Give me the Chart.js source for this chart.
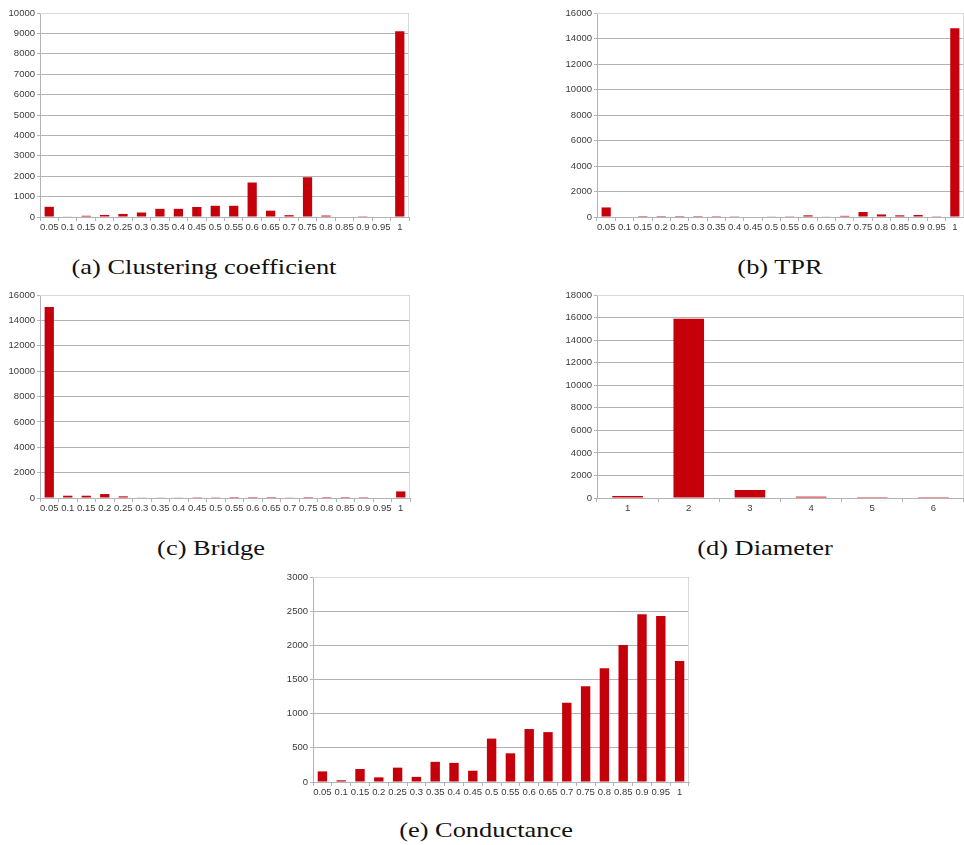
<!DOCTYPE html>
<html>
<head>
<meta charset="utf-8">
<script src="https://cdn.jsdelivr.net/npm/chart.js@4/dist/chart.umd.min.js"></script>
<style>
  html, body { margin: 0; padding: 0; background: #ffffff; }
  body { width: 964px; height: 845px; position: relative; overflow: hidden; }
  .panel { position: absolute; }
  .panel canvas { display: block; }
  .cap { position: absolute; font-family: "Liberation Serif", "DejaVu Serif", serif; font-size: 22px; color: #111; white-space: nowrap; transform: translate(-50%, -50%) scaleX(1.2); }
</style>
</head>
<body>
<div class="panel" id="pa" style="left:0px;top:0px;width:420px;height:240px;"><canvas id="ca"></canvas></div>
<div class="panel" id="pb" style="left:540px;top:0px;width:424px;height:240px;"><canvas id="cb"></canvas></div>
<div class="panel" id="pc" style="left:0px;top:282px;width:420px;height:240px;"><canvas id="cc"></canvas></div>
<div class="panel" id="pd" style="left:540px;top:282px;width:424px;height:240px;"><canvas id="cd"></canvas></div>
<div class="panel" id="pe" style="left:280px;top:564px;width:420px;height:240px;"><canvas id="ce"></canvas></div>

<div class="cap" style="left:204px;top:267px;">(a) Clustering coefficient</div>
<div class="cap" style="left:780px;top:267px;">(b) TPR</div>
<div class="cap" style="left:211px;top:548px;">(c) Bridge</div>
<div class="cap" style="left:765px;top:548px;">(d) Diameter</div>
<div class="cap" style="left:486px;top:830px;">(e) Conductance</div>

<script>
// ---- data ----
const binLabels = ['0.05','0.1','0.15','0.2','0.25','0.3','0.35','0.4','0.45','0.5',
                   '0.55','0.6','0.65','0.7','0.75','0.8','0.85','0.9','0.95','1'];
const diameterLabels = ['1','2','3','4','5','6'];

const clusteringValues  = [500, 30, 60, 100, 150, 220, 400, 400, 490, 550,
                           550, 1690, 310, 90, 1950, 70, 0, 10, 0, 9100];
const tprValues         = [750, 0, 5, 5, 5, 5, 10, 20, 40, 50,
                           20, 130, 30, 90, 390, 200, 130, 160, 60, 14800];
const bridgeValues      = [15050, 180, 180, 310, 130, 50, 50, 50, 15, 20,
                           5, 5, 5, 50, 5, 5, 5, 10, 0, 520];
const diameterValues    = [180, 15900, 710, 120, 10, 10];
const conductanceValues = [155, 25, 190, 68, 210, 75, 295, 280, 165, 635,
                           420, 775, 730, 1160, 1400, 1665, 2005, 2455, 2430, 1770];

// ---- styling ----
const BAR_COLOR = '#c5000b';
const GRID = '#b3b3b3';
const TEXT = '#3a3a3a';
const FONT = { family: '"Liberation Sans", Arial, sans-serif', size: 9.5 };

const framePlugin = {
  id: 'frame',
  beforeDatasetsDraw(chart) {
    const a = chart.chartArea, ctx = chart.ctx;
    ctx.save();
    ctx.strokeStyle = '#d9d9d9';
    ctx.lineWidth = 1;
    ctx.beginPath();
    ctx.moveTo(a.left, a.top + 0.5);
    ctx.lineTo(a.right - 0.5, a.top + 0.5);
    ctx.lineTo(a.right - 0.5, a.bottom);
    ctx.stroke();
    ctx.restore();
  }
};

function makeChart(id, labels, values, yMax, yStep, yWidth, padRight, xHeight) {
  new Chart(document.getElementById(id), {
    type: 'bar',
    data: {
      labels: labels,
      datasets: [{
        data: values,
        backgroundColor: BAR_COLOR,
        borderWidth: 0,
        categoryPercentage: 1.0,
        barPercentage: 0.5
      }]
    },
    options: {
      responsive: true,
      maintainAspectRatio: false,
      animation: false,
      devicePixelRatio: 1,
      layout: { padding: { top: 13, right: padRight, left: 0, bottom: 0 } },
      plugins: { legend: { display: false }, tooltip: { enabled: false }, title: { display: false } },
      scales: {
        x: {
          offset: true,
          grid: { display: true, drawOnChartArea: false, drawTicks: true, tickLength: 4, color: GRID, offset: true },
          border: { display: true, color: GRID },
          ticks: { color: TEXT, font: FONT, padding: 1, maxRotation: 0, minRotation: 0, autoSkip: false },
          afterFit(scale) { scale.height = xHeight; }
        },
        y: {
          min: 0, max: yMax,
          grid: { color: GRID, tickLength: 3, drawTicks: true },
          border: { display: true, color: GRID },
          ticks: { stepSize: yStep, color: TEXT, font: FONT, padding: 2,
                   callback: (v) => String(v) },
          afterFit(scale) { scale.width = yWidth; }
        }
      }
    },
    plugins: [framePlugin]
  });
}

makeChart('ca', binLabels, clusteringValues, 10000, 1000, 40, 11, 23);
makeChart('cb', binLabels, tprValues, 16000, 2000, 57, 0, 23);
makeChart('cc', binLabels, bridgeValues, 16000, 2000, 40, 10, 24);
makeChart('cd', diameterLabels, diameterValues, 18000, 2000, 57, 0, 24);
makeChart('ce', binLabels, conductanceValues, 3000, 500, 33, 11, 22);
</script>
</body>
</html>
